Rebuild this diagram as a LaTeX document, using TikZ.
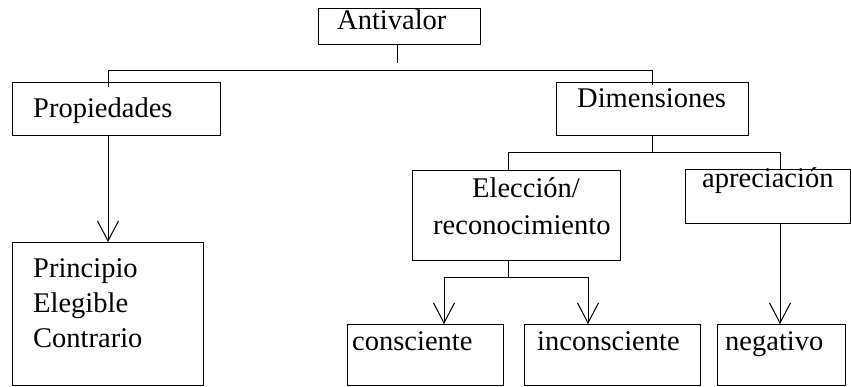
\documentclass[tikz,border=0pt]{standalone}
\usepackage{fontspec}
\setmainfont{Liberation Serif}
\usetikzlibrary{arrows.meta}
\begin{document}
\begin{tikzpicture}[x=1pt,y=-1pt,
  box/.style={draw=black, line width=1pt, rectangle, anchor=north west, inner sep=0pt, outer sep=0pt},
  txt/.style={anchor=base west, inner sep=0pt, font=\fontsize{28.5}{30}\selectfont},
  conn/.style={draw=black, line width=1pt},
  arr/.style={conn, -{Straight Barb[length=20pt,width=21pt,line width=1pt]}}]
\useasboundingbox (0,0) rectangle (851,386);
% boxes
\node[box, minimum width=162pt, minimum height=36pt] (anti) at (318,8) {};
\node[box, minimum width=208pt, minimum height=53pt] (prop) at (12,82) {};
\node[box, minimum width=192pt, minimum height=53pt] (dim) at (556,82) {};
\node[box, minimum width=191pt, minimum height=143pt] (prin) at (12,242) {};
\node[box, minimum width=208pt, minimum height=90pt] (elec) at (412,170) {};
\node[box, minimum width=165pt, minimum height=54pt] (apre) at (685,169) {};
\node[box, minimum width=156pt, minimum height=61pt] (cons) at (347,324) {};
\node[box, minimum width=176pt, minimum height=61pt] (inco) at (524,324) {};
\node[box, minimum width=128pt, minimum height=61pt] (nega) at (717,324) {};
% texts
\node[txt] (tanti) at (337,29) {Antivalor};
\node[txt] (tprop) at (33,117) {Propiedades};
\node[txt] (tdim) at (577,107) {Dimensiones};
\node[txt] (tprin1) at (33,277) {Principio};
\node[txt] (tprin2) at (33,312) {Elegible};
\node[txt] (tprin3) at (33,347) {Contrario};
\node[txt] (telec1) at (472,197) {Elecci\'on/};
\node[txt] (telec2) at (433,234) {reconocimiento};
\node[txt] (tapre) at (702,187) {apreciaci\'on};
\node[txt] (tcons) at (352,350) {consciente};
\node[txt] (tinco) at (537,350) {inconsciente};
\node[txt] (tnega) at (725,350) {negativo};
% coordinates
\coordinate (a1) at (397,63);
\coordinate (h1) at (108,70);
\coordinate (h2) at (652,70);
\coordinate (p1) at (108,87);
\coordinate (d1) at (652,85);
\coordinate (d2) at (652,152);
\coordinate (e1) at (508,152);
\coordinate (e2) at (780,152);
\coordinate (f1) at (508,277);
\coordinate (f2) at (444,277);
\coordinate (f3) at (588,277);
% connectors
\draw[conn] (a1 |- anti.south) -- (a1);
\draw[conn] (p1) -- (h1) -- (h2) -- (d1);
\draw[arr] (h1 |- prop.south) -- (h1 |- prin.north);
\draw[conn] (d2 |- dim.south) -- (d2);
\draw[conn] (e1 |- elec.north) -- (e1) -- (e2) -- (e2 |- apre.north);
\draw[conn] (f1 |- elec.south) -- (f1);
\draw[conn] (f2) -- (f3);
\draw[arr] (f2) -- (f2 |- cons.north);
\draw[arr] (f3) -- (f3 |- inco.north);
\draw[arr] (e2 |- apre.south) -- (e2 |- nega.north);
\end{tikzpicture}
\end{document}
